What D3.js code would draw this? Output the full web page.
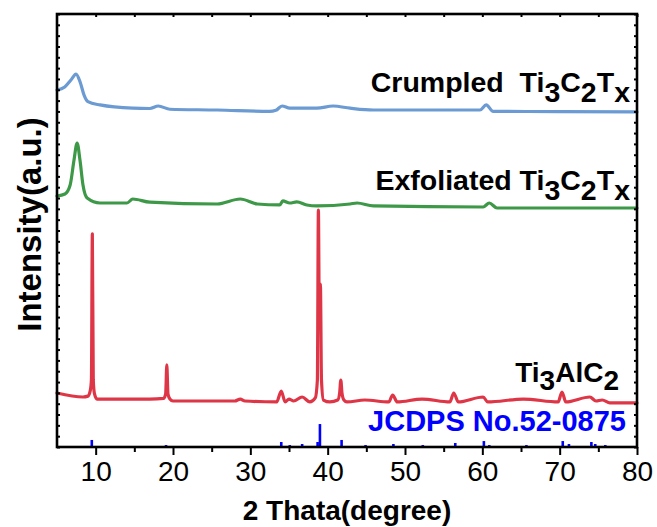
<!DOCTYPE html>
<html>
<head>
<meta charset="utf-8">
<script src="https://cdn.jsdelivr.net/npm/d3@7"></script>
<style>
  body { margin: 0; background: #fff; }
  text { font-family: Arial, "Liberation Sans", sans-serif; }
</style>
</head>
<body>
<svg id="chart" width="657" height="527"></svg>
<script>
// XRD patterns: [2theta, intensity (a.u.)]
const crumpled = [
  [5.0, 32.98], [6.0, 33.26], [6.8, 33.9], [7.46, 34.45], [8.0, 33.7], [8.5, 32.5],
  [9.0, 31.9], [10.56, 31.6], [14.8, 31.3], [17.0, 31.27], [18.1, 31.5], [19.6, 31.2],
  [25.7, 31.13], [32.5, 31.0], [33.3, 31.1], [34.1, 31.5], [35.1, 31.3], [38.6, 31.3],
  [40.7, 31.5], [42.9, 31.3], [45.9, 31.13], [59.7, 31.13], [60.5, 31.6], [61.4, 31.0],
  [70.0, 30.99], [80.0, 30.95]
];
const exfoliated = [
  [5.0, 23.19], [6.03, 23.37], [6.7, 24.2], [7.2, 26.51], [7.6, 28.08], [7.97, 26.51],
  [8.36, 24.2], [8.9, 23.0], [10.56, 22.54], [14.05, 22.54], [14.8, 22.91], [17.0, 22.62],
  [25.7, 22.45], [28.7, 22.91], [30.9, 22.45], [33.8, 22.36], [34.2, 22.73], [35.1, 22.54],
  [36.0, 22.64], [37.3, 22.36], [38.6, 22.27], [42.9, 22.45], [43.8, 22.54], [45.9, 22.27],
  [60.1, 22.17], [60.9, 22.54], [61.9, 22.08], [80.0, 22.08]
];
const ti3alc2 = [
  [5.0, 4.99], [8.36, 4.62], [9.0, 4.7], [9.3, 5.2], [9.45, 6.2], [9.57, 19.68], [9.69, 6.2],
  [9.85, 4.9], [10.17, 4.43], [17.0, 4.43], [18.8, 4.5], [19.05, 4.9], [19.2, 7.58], [19.35, 4.9],
  [19.6, 4.43], [20.0, 4.25], [28.0, 4.25], [28.7, 4.43], [29.3, 4.25], [33.4, 4.16],
  [34.0, 5.17], [34.5, 4.16], [35.0, 4.43], [35.6, 4.25], [36.7, 4.62], [37.7, 4.16],
  [38.4, 4.53], [38.67, 6.19], [38.8, 21.89], [38.93, 11.09], [39.06, 15.06], [39.2, 6.19],
  [39.45, 4.34], [40.3, 4.16], [41.3, 4.34], [41.55, 5.0], [41.7, 6.19], [41.85, 5.0],
  [42.1, 4.34], [42.5, 4.16], [44.8, 4.34], [47.9, 4.16], [48.4, 4.8], [49.0, 4.16],
  [52.2, 4.43], [55.8, 4.16], [56.3, 4.99], [56.9, 4.16], [60.1, 4.62], [60.7, 4.16],
  [65.3, 4.43], [69.8, 4.16], [70.3, 5.08], [70.8, 4.16], [73.9, 4.62], [74.7, 4.25],
  [75.5, 4.34], [76.5, 4.07], [80.0, 4.07]
];
// JCPDS No.52-0875 reference lines: [2theta, relative height]
const jcpds = [
  [9.5, 0.65], [19.1, 0.18], [34.0, 0.46], [35.1, 0.18], [36.7, 0.28], [38.7, 0.46],
  [39.0, 2.12], [41.8, 0.65], [44.9, 0.18], [48.5, 0.28], [52.3, 0.18], [56.5, 0.37],
  [60.2, 0.55], [60.9, 0.18], [65.7, 0.18], [70.4, 0.55], [71.2, 0.28], [74.1, 0.46],
  [74.6, 0.28], [75.9, 0.18]
];
const xMajor = [10, 20, 30, 40, 50, 60, 70, 80];
const xMinor = [15, 25, 35, 45, 55, 65, 75];
const yTicks = d3.range(0, 41, 1);

const svg = d3.select("#chart");
const margin = { top: 14, right: 20, bottom: 80, left: 57 };
const width = 657 - margin.left - margin.right;
const height = 527 - margin.top - margin.bottom;

const x = d3.scaleLinear().domain([5, 80]).range([0, width]);
const y = d3.scaleLinear().domain([0, 40]).range([height, 0]);

const g = svg.append("g").attr("transform", `translate(${margin.left},${margin.top})`);

const line = d3.line().x(d => x(d[0])).y(d => y(d[1])).curve(d3.curveMonotoneX);

// reference sticks
g.selectAll(".stick")
  .data(jcpds)
  .enter()
  .append("line")
  .attr("x1", d => x(d[0])).attr("x2", d => x(d[0]))
  .attr("y1", y(0)).attr("y2", d => y(d[1]))
  .attr("stroke", "#0000ff")
  .attr("stroke-width", 2.6);

// patterns
const series = [
  { data: crumpled, color: "#6b9bd2" },
  { data: exfoliated, color: "#3d9948" },
  { data: ti3alc2, color: "#de3646" }
];
series.forEach(s => {
  g.append("path")
    .datum(s.data)
    .attr("d", line)
    .attr("fill", "none")
    .attr("stroke", s.color)
    .attr("stroke-width", 3.2)
    .attr("stroke-linejoin", "round")
    .attr("stroke-linecap", "round");
});

// axes
const xAxis = g.append("g").attr("transform", `translate(0,${height})`)
  .call(d3.axisBottom(x).tickValues(xMajor).tickSize(8).tickPadding(6).tickFormat(d3.format("d")));
g.append("g").attr("transform", `translate(0,${height})`)
  .call(d3.axisBottom(x).tickValues(xMinor).tickSize(5).tickFormat(""));
g.append("g")
  .call(d3.axisBottom(x).tickValues(xMajor.concat(xMinor)).tickSize(3).tickFormat(""));
g.append("g")
  .call(d3.axisRight(y).tickValues(yTicks).tickSize(3).tickFormat(""));
g.append("g").attr("transform", `translate(${width},0)`)
  .call(d3.axisLeft(y).tickValues(yTicks).tickSize(3).tickFormat(""));

g.selectAll(".domain").remove();
g.selectAll(".tick line").attr("stroke", "#000").attr("stroke-width", 2);
xAxis.selectAll(".tick text")
  .attr("font-size", 28)
  .attr("fill", "#000");

g.append("rect")
  .attr("width", width).attr("height", height)
  .attr("fill", "none").attr("stroke", "#000").attr("stroke-width", 2.6);

// axis titles
svg.append("text")
  .attr("x", margin.left + width / 2).attr("y", 520)
  .attr("text-anchor", "middle")
  .attr("font-size", 28).attr("font-weight", "bold")
  .text("2 Thata(degree)");

svg.append("text")
  .attr("transform", `translate(41,${margin.top + height / 2 - 6}) rotate(-90)`)
  .attr("text-anchor", "middle")
  .attr("font-size", 33).attr("font-weight", "bold")
  .text("Intensity(a.u.)");

// curve labels
function label(parts, xPos, yPos, size, weight, color) {
  const t = svg.append("text")
    .attr("x", xPos).attr("y", yPos)
    .attr("text-anchor", "end")
    .attr("font-size", size).attr("font-weight", weight)
    .attr("fill", color);
  parts.forEach(p => {
    t.append("tspan")
      .attr("dy", p[1])
      .text(p[0]);
  });
}
label([["Crumpled\u00a0\u00a0Ti", 0], ["3", 10], ["C", -10], ["2", 10], ["T", -10], ["x", 10]],
  630, 92, 28.5, "bold", "#000");
label([["Exfoliated Ti", 0], ["3", 10], ["C", -10], ["2", 10], ["T", -10], ["x", 10]],
  630, 190, 28.5, "bold", "#000");
label([["Ti", 0], ["3", 8], ["AlC", -8], ["2", 8]],
  619, 382, 28, "bold", "#000");
label([["JCDPS No.52-0875", 0]], 626, 431, 29, "bold", "#0000ff");
</script>
</body>
</html>
